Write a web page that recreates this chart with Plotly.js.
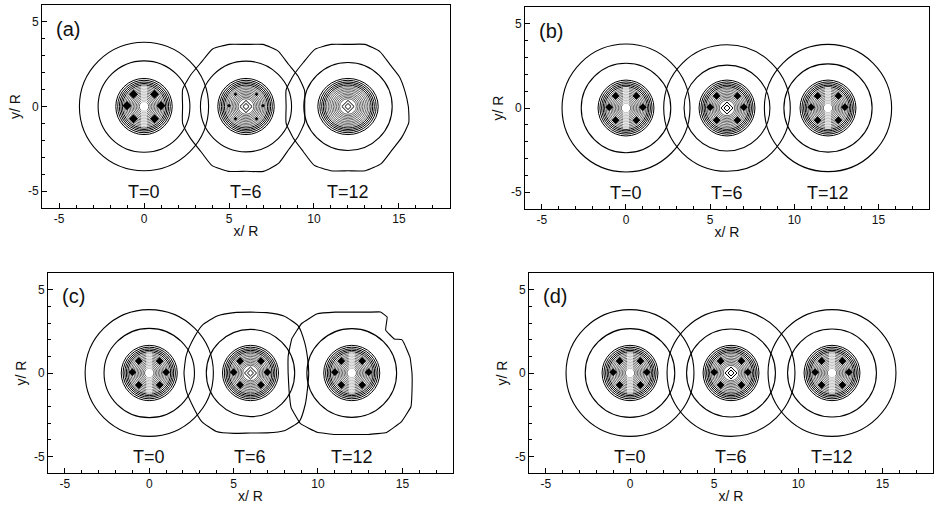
<!DOCTYPE html>
<html><head><meta charset="utf-8">
<script src="https://cdn.plot.ly/plotly-3.0.1.min.js"></script>
<style>html,body{margin:0;padding:0;background:#fff}#chart{width:938px;height:505px}</style>
</head><body><div id="chart"></div>
<script>
// ---------------- data ----------------
const panelLabels = ['(a)', '(b)', '(c)', '(d)'];
const vortexCenters = [0, 6, 12];
const timeLabels = ['T=0', 'T=6', 'T=12'];
const xTickVals = [-5, 0, 5, 10, 15];
const xTickText = ['-5', '0', '5', '10', '15'];
const xMinorTicks = [-4, -3, -2, -1, 1, 2, 3, 4, 6, 7, 8, 9, 11, 12, 13, 14, 16, 17];
const yTickVals = [-5, 0, 5];
const yTickText = ['-5', '0', '5'];
const yMinorTicks = [-4, -3, -2, -1, 1, 2, 3, 4];

// circular outer contour radius per panel / vortex (null = irregular contour below)
const outerRadius = [
  [3.80, null, null],
  [3.80, 3.76, 3.78],
  [3.80, null, null],
  [3.80, 3.80, 3.80]
];
// second contour radius per panel / vortex
const midRadius = [
  [2.70, 2.68, 2.60],
  [2.66, 2.55, 2.62],
  [2.68, 2.62, 2.66],
  [2.66, 2.64, 2.64]
];
// dense core contour levels (radii)
const coreRadii = [1.66, 1.55, 1.45, 1.36, 1.27, 1.18, 1.09, 1.00, 0.91, 0.82, 0.73, 0.64, 0.55, 0.46, 0.37, 0.28];
// horizontal elongation of the core per panel / vortex
const coreStretch = [
  [1.00, 1.00, 1.07],
  [1.00, 1.00, 1.00],
  [1.00, 1.00, 1.00],
  [1.00, 1.00, 1.00]
];
// core centre type per panel / vortex: 's' = striped centre, 'd' = diamond centre
const coreCentre = [
  ['s', 'd', 'd'],
  ['s', 'd', 's'],
  ['s', 'd', 's'],
  ['s', 'd', 's']
];
const diamondRadii = [0.18, 0.36];
const diamondAngles = [0, 90, 180, 270];
// dark spots in the cores (offsets from the vortex centre)
const spotDx = [-0.62, 0.62, -0.62, 0.62, -1.0, 1.0];
const spotDy = [0.72, 0.72, -0.72, -0.72, 0.05, 0.05];
const spotSize = [
  [7, 3, 0],
  [6, 6, 6],
  [6, 6, 6],
  [6, 6, 6]
];

// irregular outer contours: polar angles (deg) and radii
const polarAngles = [0, 15, 30, 45, 60, 75, 90, 105, 120, 135, 150, 165, 180, 195, 210, 225, 240, 255, 270, 285, 300, 315, 330, 345];
const outerA6  = [3.45, 3.57, 3.55, 3.53, 3.78, 3.80, 3.67, 3.80, 3.93, 3.71, 3.75, 3.86, 3.73, 3.86, 3.77, 3.76, 4.02, 3.97, 3.83, 3.97, 3.86, 3.57, 3.54, 3.57];
const outerA12 = [3.55, 3.47, 3.50, 3.50, 3.75, 3.80, 3.67, 3.80, 3.90, 3.70, 3.70, 3.77, 3.64, 3.77, 3.72, 3.74, 4.00, 3.93, 3.80, 3.93, 3.90, 3.65, 3.65, 3.70];
const outerC6  = [3.45, 3.50, 3.70, 4.00, 3.95, 3.75, 3.65, 3.75, 3.95, 4.05, 3.95, 3.95, 3.94, 3.95, 3.95, 4.10, 4.05, 3.75, 3.60, 3.72, 4.00, 4.10, 3.75, 3.50];
const notchAngles = [0, 15, 30, 34, 39, 52, 58, 65, 75, 90, 105, 120, 135, 150, 165, 180, 195, 210, 225, 240, 255, 270, 285, 300, 315, 330, 345];
const outerC12 = [3.57, 3.58, 3.58, 3.58, 3.25, 3.26, 3.96, 4.04, 3.78, 3.65, 3.78, 4.10, 4.20, 4.10, 3.90, 3.77, 3.85, 4.15, 4.30, 4.10, 3.82, 3.69, 3.82, 4.12, 4.15, 4.05, 3.70];
const irregularOuter = [
  [null, {a: polarAngles, r: outerA6, sm: 0.5}, {a: polarAngles, r: outerA12, sm: 0.5}],
  [null, null, null],
  [null, {a: polarAngles, r: outerC6, sm: 0.5}, {a: notchAngles, r: outerC12, sm: 0.25}],
  [null, null, null]
];

// ---------------- build ----------------
const domains = [
  {x: [0.04478, 0.47974], y: [0.5881, 0.9901]},
  {x: [0.5597, 0.9904], y: [0.5861, 0.9861]},
  {x: [0.05117, 0.48294], y: [0.06337, 0.4594]},
  {x: [0.56397, 0.99467], y: [0.06337, 0.4594]}
];
const FONT = 'Liberation Sans, Arial, Helvetica, sans-serif';
const traces = [];
const shapes = [];
const annotations = [];
const layout = {
  width: 938, height: 505,
  margin: {l: 0, r: 0, t: 0, b: 0},
  paper_bgcolor: '#fff', plot_bgcolor: '#fff',
  showlegend: false,
  font: {family: FONT, color: '#111', size: 12}
};

function polarPath(cx, radii, angles) {
  const xs = [], ys = [];
  angles.forEach((a, i) => {
    const t = a * Math.PI / 180;
    xs.push(cx + radii[i] * Math.cos(t));
    ys.push(radii[i] * Math.sin(t));
  });
  xs.push(xs[0]); ys.push(ys[0]);
  return {xs, ys};
}

panelLabels.forEach((lab, p) => {
  const sfx = p === 0 ? '' : String(p + 1);
  const xr = 'x' + sfx, yr = 'y' + sfx;
  layout['xaxis' + sfx] = {
    domain: domains[p].x, anchor: yr, range: [-6, 18], fixedrange: true,
    showgrid: false, zeroline: false, showline: true, linecolor: '#000', linewidth: 1, mirror: true,
    ticks: 'inside', ticklen: 5, tickcolor: '#000', tickwidth: 1,
    tickmode: 'array', tickvals: xTickVals, ticktext: xTickText,
    minor: {tickmode: 'array', tickvals: xMinorTicks, ticks: 'inside', ticklen: 3, tickcolor: '#000'},
    tickfont: {size: 12, family: FONT, color: '#111'},
    title: {text: 'x/ R', font: {size: 14, family: FONT, color: '#111'}, standoff: 0},
    automargin: false
  };
  layout['yaxis' + sfx] = {
    domain: domains[p].y, anchor: xr, range: [-6, 6], fixedrange: true,
    showgrid: false, zeroline: false, showline: true, linecolor: '#000', linewidth: 1, mirror: true,
    ticks: 'inside', ticklen: 5, tickcolor: '#000', tickwidth: 1,
    tickmode: 'array', tickvals: yTickVals, ticktext: yTickText,
    minor: {tickmode: 'array', tickvals: yMinorTicks, ticks: 'inside', ticklen: 3, tickcolor: '#000'},
    tickfont: {size: 12, family: FONT, color: '#111'},
    title: {text: 'y/ R', font: {size: 14, family: FONT, color: '#111'}, standoff: 4},
    automargin: false
  };

  annotations.push({xref: xr, yref: yr, x: -5.3, y: 4.6, text: lab, showarrow: false,
    xanchor: 'left', yanchor: 'middle', font: {size: 20, family: FONT, color: '#111'}});

  vortexCenters.forEach((cx, v) => {
    annotations.push({xref: xr, yref: yr, x: cx, y: -5.05, text: timeLabels[v], showarrow: false,
      xanchor: 'center', yanchor: 'middle', font: {size: 18, family: FONT, color: '#111'}});

    // outer contour
    if (outerRadius[p][v] !== null) {
      const r = outerRadius[p][v];
      shapes.push({type: 'circle', layer: 'below', xref: xr, yref: yr, x0: cx - r, x1: cx + r, y0: -r, y1: r,
        line: {color: '#000', width: 1.1}});
    } else {
      const ic = irregularOuter[p][v];
      const pp = polarPath(cx, ic.r, ic.a);
      traces.push({type: 'scatter', mode: 'lines', x: pp.xs, y: pp.ys, xaxis: xr, yaxis: yr,
        line: {color: '#000', width: 1.1, shape: 'spline', smoothing: ic.sm}, hoverinfo: 'skip'});
    }
    // second contour
    const m = midRadius[p][v];
    shapes.push({type: 'circle', layer: 'below', xref: xr, yref: yr, x0: cx - m, x1: cx + m, y0: -m, y1: m,
      line: {color: '#000', width: 1.1}});
    // dense core
    const s = coreStretch[p][v];
    const isDiamond = coreCentre[p][v] === 'd';
    coreRadii.forEach((r, k) => {
      if (isDiamond && r < 0.45) return;
      shapes.push({type: 'circle', layer: 'below', xref: xr, yref: yr, x0: cx - r * s, x1: cx + r * s, y0: -r, y1: r,
        line: {color: k < 5 ? '#000' : '#222', width: k < 5 ? 1 : 0.7}});
    });
    // centre
    if (!isDiamond) {
      shapes.push({type: 'rect', layer: 'below', xref: xr, yref: yr, x0: cx - 0.18, x1: cx + 0.18, y0: -1.25, y1: 1.25,
        fillcolor: 'rgba(255,255,255,0.6)', line: {width: 0}});
    } else {
      diamondRadii.forEach(r => {
        const pp = polarPath(cx, diamondAngles.map(() => r), diamondAngles);
        traces.push({type: 'scatter', mode: 'lines', x: pp.xs, y: pp.ys, xaxis: xr, yaxis: yr,
          line: {color: '#000', width: 1}, hoverinfo: 'skip'});
      });
    }
    // dark spots
    if (spotSize[p][v] > 0) {
      traces.push({type: 'scatter', mode: 'markers', xaxis: xr, yaxis: yr,
        x: spotDx.map(d => cx + d), y: spotDy.slice(),
        marker: {symbol: 'diamond', size: spotSize[p][v], color: '#000'}, hoverinfo: 'skip'});
    }
  });
});
layout.shapes = shapes;
layout.annotations = annotations;
Plotly.newPlot('chart', traces, layout, {displayModeBar: false, staticPlot: true});
</script></body></html>
